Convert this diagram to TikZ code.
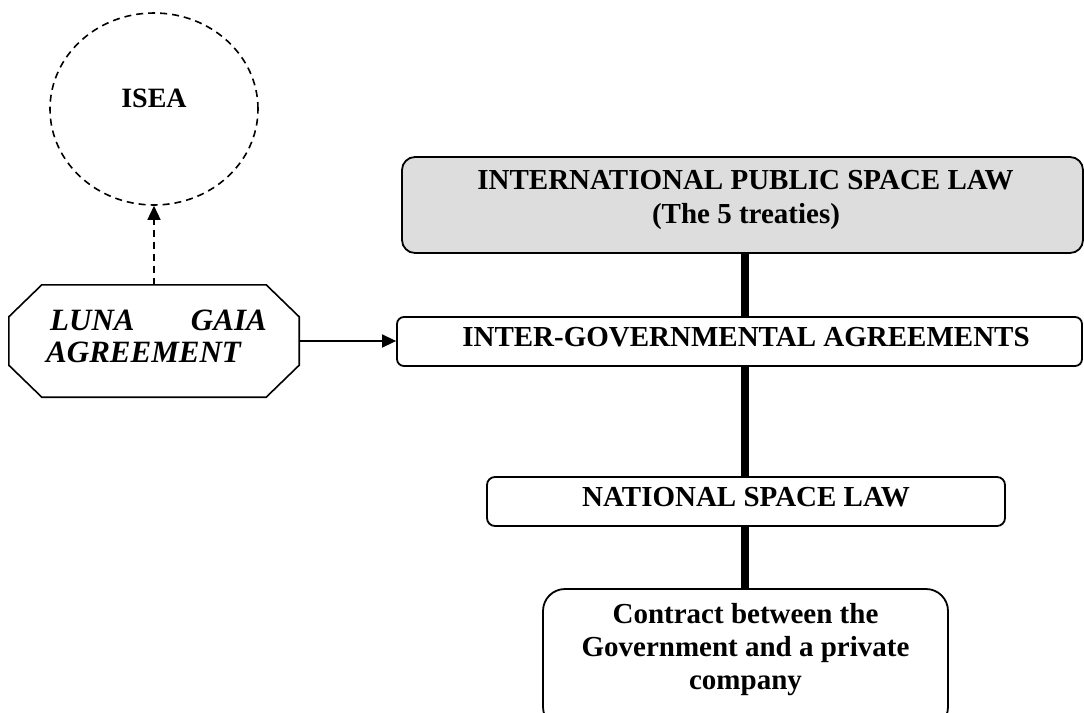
\documentclass[tikz,border=0pt]{standalone}
\usepackage{fontspec}
\setmainfont{Liberation Serif}
\usetikzlibrary{arrows.meta,shapes.geometric,calc}
\definecolor{boxgray}{HTML}{DDDDDD}
\begin{document}
\begin{tikzpicture}[x=1pt,y=-1pt,
  lawbox/.style={draw=black, line width=1.8pt, inner sep=0pt},
  txt/.style={font=\fontsize{29}{33}\selectfont\bfseries, inner sep=0pt, anchor=base},
  itxt/.style={font=\fontsize{31}{33}\selectfont\bfseries\itshape, inner sep=0pt},
  spineline/.style={line width=7.5pt},
  arr/.style={line width=1.5pt, -{Triangle[length=14pt,width=13pt]}},
  dasharr/.style={arr, dash pattern=on 7pt off 5pt}
]
\useasboundingbox (0,0) rectangle (1084,712);
\clip (0,0) rectangle (1084,712);

% boxes
\node[lawbox, fill=boxgray, rounded corners=13pt, minimum width=681pt, minimum height=96pt] (ipsl) at (742.5,205) {};
\node[lawbox, rounded corners=7pt, minimum width=685pt, minimum height=49pt] (iga) at (739.5,341.5) {};
\node[lawbox, rounded corners=8pt, minimum width=518pt, minimum height=49pt] (nsl) at (746,501.5) {};
\node[lawbox, rounded corners=22pt, minimum width=405pt, minimum height=140pt] (contract) at (745.5,659) {};

% ISEA ellipse
\node[ellipse, draw, line width=1.6pt, dash pattern=on 7pt off 5pt, minimum width=208pt, minimum height=192pt, inner sep=0pt] (isea) at (154,109) {};
\node[txt, font=\fontsize{28}{33}\selectfont\bfseries] (iseat) at (154,107) {ISEA};

% octagon
\node[minimum width=290pt, minimum height=112pt, inner sep=0pt] (luna) at (154,341) {};
\draw[line width=1.6pt]
  ($(luna.north west)+(33,0)$) -- ($(luna.north east)+(-33,0)$) --
  ($(luna.north east)+(0,32)$) -- ($(luna.south east)+(0,-32)$) --
  ($(luna.south east)+(-33,0)$) -- ($(luna.south west)+(33,0)$) --
  ($(luna.south west)+(0,-32)$) -- ($(luna.north west)+(0,32)$) -- cycle;
\node[itxt, anchor=base west] (l1) at (50,330) {LUNA};
\node[itxt, anchor=base east] (l2) at (267,330) {GAIA};
\node[itxt, anchor=base west] (l3) at (46,362) {AGREEMENT};

% texts
\node[txt] (t1) at (745.5,189) {INTERNATIONAL PUBLIC SPACE LAW};
\node[txt] (t2) at (746,223) {(The 5 treaties)};
\node[txt] (t3) at (746,346) {INTER-GOVERNMENTAL AGREEMENTS};
\node[txt] (t4) at (746,506) {NATIONAL SPACE LAW};
\node[txt] (c1) at (745.5,623) {Contract between the};
\node[txt] (c2) at (745.5,656) {Government and a private};
\node[txt] (c3) at (745.5,689) {company};

% spine
\coordinate (sp) at (745,0);
\draw[spineline] (ipsl.south -| sp) -- (iga.north -| sp);
\draw[spineline] (iga.south -| sp) -- (nsl.north -| sp);
\draw[spineline] (nsl.south -| sp) -- (contract.north -| sp);

% arrows
\draw[arr] (luna.east) -- (luna.east -| iga.west);
\draw[dasharr] (luna.north) -- (isea.south);
\end{tikzpicture}
\end{document}
